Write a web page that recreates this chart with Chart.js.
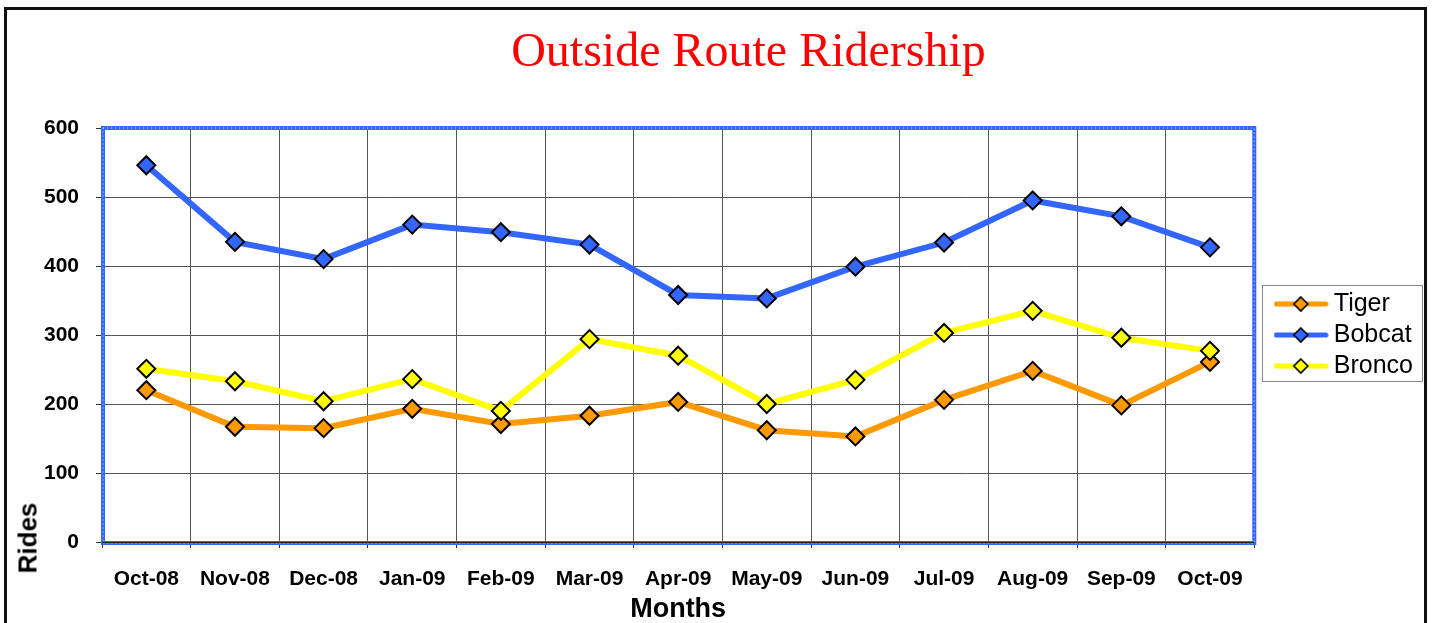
<!DOCTYPE html>
<html><head><meta charset="utf-8">
<script src="https://cdn.jsdelivr.net/npm/chart.js@4/dist/chart.umd.min.js"></script>
<style>
html,body{margin:0;padding:0;background:#fff;width:1437px;height:623px;overflow:hidden}
#frame{position:absolute;left:4px;top:7px;width:1423px;height:700px;border:3px solid #111;border-bottom:none;box-sizing:border-box}
#wrap{position:absolute;left:0;top:0;width:1437px;height:623px}
#rides{position:absolute;left:28px;top:538px;transform:translate(-50%,-50%) rotate(-90deg);font:bold 26px Arial,'Liberation Sans',sans-serif;white-space:nowrap;color:#000}
</style></head>
<body>
<div id="frame"></div>
<div id="wrap"><canvas id="c" width="1437" height="623"></canvas></div>
<div id="rides">Rides</div>
<script>
const months = ['Oct-08','Nov-08','Dec-08','Jan-09','Feb-09','Mar-09','Apr-09','May-09','Jun-09','Jul-09','Aug-09','Sep-09','Oct-09'];
const tiger  = [220,167,165,193,171,183,203,162,153,206,248,198,261];
const bobcat = [546,435,410,460,449,431,358,353,399,434,495,472,427];
const bronco = [251,233,204,236,190,294,270,200,235,303,335,296,277];
const seriesNames = ['Tiger','Bobcat','Bronco'];
const seriesColors = ['#FF9900','#3366FF','#FFFF00'];
const yTicks = [0,100,200,300,400,500,600];

const SANS = "Arial, 'Liberation Sans', sans-serif";

function legendImage(color){
  const c = document.createElement('canvas');
  c.width = 56; c.height = 22;
  const g = c.getContext('2d');
  g.strokeStyle = color; g.lineWidth = 5; g.lineCap = 'round';
  g.beginPath(); g.moveTo(3,11); g.lineTo(53,11); g.stroke();
  g.fillStyle = color; g.strokeStyle = '#000'; g.lineWidth = 1.6;
  g.beginPath(); g.moveTo(28,4); g.lineTo(35,11); g.lineTo(28,18); g.lineTo(21,11); g.closePath();
  g.fill(); g.stroke();
  return c;
}
const legendImgs = seriesColors.map(legendImage);

const extras = {
  id:'extras',
  afterLayout(chart){
    const t = chart.titleBlock;
    if (t){ t.left += 37; t.right += 37; }
  },
  beforeDatasetsDraw(chart){
    const {ctx, chartArea:a} = chart;
    ctx.save();
    ctx.strokeStyle = '#3366FF'; ctx.lineWidth = 4;
    ctx.strokeRect(a.left+1, a.top, a.right-a.left-1, a.bottom-a.top+1);
    ctx.strokeStyle = 'rgba(255,255,255,0.85)'; ctx.lineWidth = 1; ctx.setLineDash([1,3]);
    ctx.strokeRect(a.left+1, a.top, a.right-a.left-1, a.bottom-a.top+1);
    ctx.setLineDash([]);
    ctx.strokeStyle = '#222'; ctx.lineWidth = 1;
    ctx.beginPath(); ctx.moveTo(a.left, a.bottom+0.5); ctx.lineTo(a.right, a.bottom+0.5); ctx.stroke();
    ctx.restore();
  },
  afterDraw(chart){
    const hb = chart.legend && chart.legend.legendHitBoxes;
    if (!hb || !hb.length) return;
    const {ctx} = chart;
    const x1 = hb[0].left - 18, x2 = x1 + 160;
    const y1 = hb[0].top - 7, y2 = hb[hb.length-1].top + hb[hb.length-1].height + 2;
    ctx.save();
    ctx.strokeStyle = '#888'; ctx.lineWidth = 1;
    ctx.strokeRect(Math.round(x1)+0.5, Math.round(y1)+0.5, Math.round(x2-x1), Math.round(y2-y1));
    ctx.restore();
  }
};

const seriesData = [tiger, bobcat, bronco];
const datasets = seriesData.map((d,i)=>({
  label: seriesNames[i],
  data: d,
  borderColor: seriesColors[i],
  backgroundColor: seriesColors[i],
  borderWidth: 6,
  tension: 0,
  pointStyle: 'rectRot',
  pointRadius: 9,
  pointHoverRadius: 9,
  pointBorderWidth: 2,
  pointBorderColor: '#000',
  pointBackgroundColor: seriesColors[i],
  order: 2 - i
}));

new Chart(document.getElementById('c'), {
  type: 'line',
  data: { labels: months, datasets },
  plugins: [extras],
  options: {
    responsive: false,
    animation: false,
    layout: { padding: { top: 0, left: 0, right: 14, bottom: 0 } },
    plugins: {
      tooltip: { enabled: false },
      title: {
        display: true,
        text: 'Outside Route Ridership',
        color: '#FF0000',
        font: { family: "'Liberation Serif','Times New Roman',serif", size: 48, weight: 'normal', lineHeight: 1.2 },
        padding: { top: 25, bottom: 45.4 }
      },
      legend: {
        position: 'right',
        fullSize: false,
        align: 'center',
        labels: {
          usePointStyle: true,
          pointStyleWidth: 41,
          padding: 6,
          color: '#000',
          font: { family: SANS, size: 25 },
          generateLabels(chart){
            return chart.data.datasets.map((ds,i)=>({
              text: ds.label, pointStyle: legendImgs[i], fillStyle: ds.borderColor,
              strokeStyle: '#000', lineWidth: 0, hidden: false, datasetIndex: i
            }));
          }
        }
      }
    },
    scales: {
      x: {
        type: 'category',
        offset: true,
        grid: { display: true, offset: true, color: '#555', lineWidth: 1, drawTicks: true, tickLength: 6, tickColor: '#333' },
        border: { display: false },
        ticks: { color: '#000', font: { family: SANS, size: 21, weight: 'bold' }, padding: 19, maxRotation: 0, autoSkip: false },
        title: { display: true, text: 'Months', color: '#000', font: { family: SANS, size: 27, weight: 'bold', lineHeight: 1.0 }, padding: { top: 0, bottom: 0 } },
        afterFit(s){ s.height = 81; }
      },
      y: {
        type: 'linear',
        min: 0, max: 600,
        afterBuildTicks(s){ s.ticks = yTicks.map(v=>({value:v})); },
        grid: { color: '#555', lineWidth: 1, drawTicks: true, tickLength: 6, tickColor: '#333' },
        border: { display: false },
        ticks: { color: '#000', font: { family: SANS, size: 21, weight: 'bold' }, padding: 17 },
        afterFit(s){ s.width = 102; }
      },
      gap: {
        type: 'linear',
        position: 'right',
        display: true,
        grid: { display: false, drawTicks: false },
        border: { display: false },
        ticks: { display: false },
        afterFit(s){ s.width = 20; }
      }
    }
  }
});
</script>
</body></html>
